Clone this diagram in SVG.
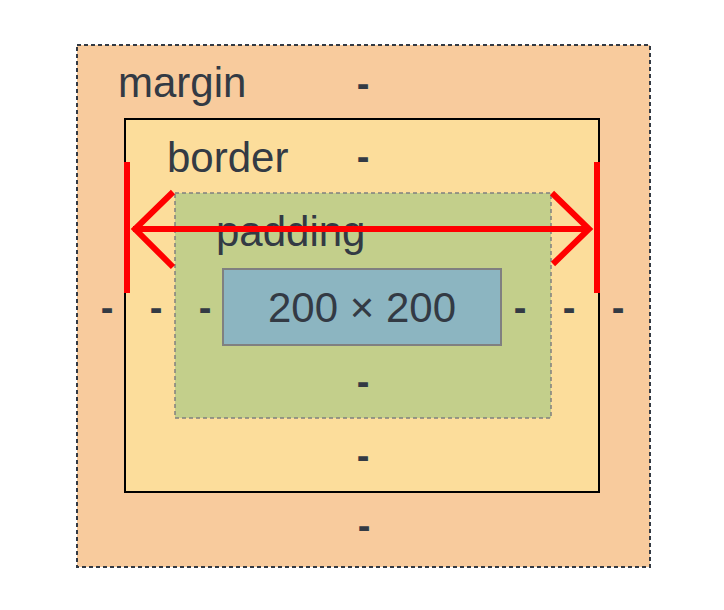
<svg xmlns="http://www.w3.org/2000/svg" width="724" height="610" viewBox="0 0 724 610">
<style>
text{font-family:"Liberation Sans",Arial,sans-serif;fill:#333a44}
.lbl{font-size:42px}
.d{font-size:38px;text-anchor:middle;font-weight:bold}
.red{stroke:#ff0000;stroke-width:6;fill:none}
</style>
<rect width="724" height="610" fill="#ffffff"/>
<g id="margin">
<rect x="77" y="45" width="573" height="522" fill="#f8cb9d" stroke="#333a44" stroke-width="2" stroke-dasharray="4,3"/>
<text class="lbl" x="118" y="97">margin</text>
<text class="d" x="363" y="97">-</text>
<text class="d" x="107" y="321">-</text>
<text class="d" x="618" y="321">-</text>
<text class="d" x="364" y="539">-</text>
</g>
<g id="border">
<rect x="125" y="119" width="474" height="373" fill="#fcdd9b" stroke="#000000" stroke-width="2"/>
<text class="lbl" x="167" y="172">border</text>
<text class="d" x="363" y="170">-</text>
<text class="d" x="156" y="321">-</text>
<text class="d" x="569" y="321">-</text>
<text class="d" x="363" y="469">-</text>
</g>
<g id="padding">
<rect x="175" y="193" width="376" height="225" fill="#c3cf8b" stroke="#808080" stroke-width="1.5" stroke-dasharray="4,3"/>
<text class="lbl" x="216" y="246">padding</text>
<text class="d" x="205" y="321">-</text>
<text class="d" x="520" y="321">-</text>
<text class="d" x="363" y="395">-</text>
</g>
<g id="content">
<rect x="223" y="269" width="278" height="76" fill="#8cb5c1" stroke="#808080" stroke-width="2"/>
<text class="lbl" x="362" y="322" text-anchor="middle">200 × 200</text>
</g>
<g id="connectors">
<line class="red" x1="127" y1="162" x2="127" y2="293"/>
<line class="red" x1="597" y1="162" x2="597" y2="293"/>
<line class="red" x1="133" y1="229" x2="590" y2="229"/>
<polyline class="red" points="173,192 135,229 173,267"/>
<polyline class="red" points="552,193 589,229 553,264"/>
</g>
</svg>
